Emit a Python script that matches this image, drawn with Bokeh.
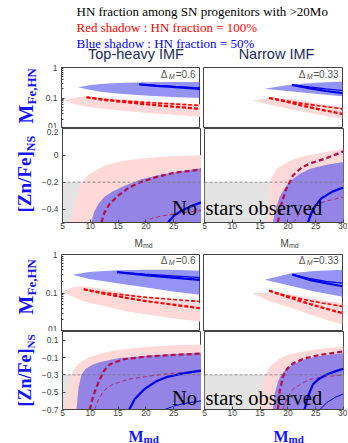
import math
from bokeh.plotting import figure
from bokeh.models import Range1d, Label, Span, BoxAnnotation, FixedTicker
from bokeh.layouts import column, row
from bokeh.embed import file_html
from bokeh.resources import INLINE

# ================= data =================
m_min, m_max = 5, 30
mfe_range = (0.01, 1)
zn_top_range = (-0.5, 0.2)
zn_bot_range = (-0.7, 0.2)
zn_limit_top = -0.2
zn_limit_bot = -0.3

x_ticks_left = [5, 10, 15, 20, 25]
x_ticks_right = [5, 10, 15, 20, 25, 30]
mfe_ticks = [0.01, 0.1, 1]
mfe_tick_labels = {0.01: ".01", 0.1: "0.1", 1: "1"}
zn_ticks_top = [-0.4, -0.2, 0, 0.2]
zn_ticks_bot = [-0.7, -0.5, -0.3, -0.1, 0.1]

# ---- block 1, M_Fe,HN, top-heavy IMF
b1_th_blue_m = [8, 10, 12, 15, 20, 25, 30]
b1_th_blue_hi = [0.226, 0.26, 0.29, 0.31, 0.33, 0.335, 0.335]
b1_th_blue_lo = [0.226, 0.185, 0.16, 0.14, 0.12, 0.108, 0.10]
b1_th_bl_m = [19, 22, 25, 28, 30]
b1_th_bl1 = [0.28, 0.25, 0.23, 0.21, 0.20]
b1_th_bl2 = [0.28, 0.26, 0.24, 0.225, 0.215]
b1_th_red_m = [5.7, 7, 9.5, 12, 15, 20, 25, 30]
b1_th_red_hi = [0.083, 0.1, 0.115, 0.105, 0.095, 0.08, 0.07, 0.062]
b1_th_red_lo = [0.083, 0.066, 0.052, 0.045, 0.04, 0.033, 0.028, 0.024]
b1_th_rl_m = [9.5, 12, 15, 20, 25, 30]
b1_th_rl1 = [0.106, 0.09, 0.078, 0.063, 0.052, 0.044]
b1_th_rl2 = [0.106, 0.093, 0.083, 0.072, 0.064, 0.057]

# ---- block 1, M_Fe,HN, narrow IMF
b1_nw_blue_m = [16, 20, 23.3, 27, 30]
b1_nw_blue_hi = [0.2, 0.26, 0.3, 0.33, 0.35]
b1_nw_blue_lo = [0.2, 0.17, 0.148, 0.128, 0.115]
b1_nw_bl_m = [20.9, 24, 27, 30]
b1_nw_bl1 = [0.27, 0.21, 0.17, 0.144]
b1_nw_bl2 = [0.27, 0.23, 0.2, 0.176]
b1_nw_red_m = [13.7, 17, 20.9, 25, 30]
b1_nw_red_hi = [0.083, 0.1, 0.095, 0.07, 0.05]
b1_nw_red_lo = [0.083, 0.06, 0.042, 0.03, 0.021]
b1_nw_rl_m = [16.8, 20, 23, 26, 30]
b1_nw_rl1 = [0.1, 0.075, 0.055, 0.042, 0.03]
b1_nw_rl2 = [0.1, 0.08, 0.065, 0.055, 0.044]

# ---- block 1, [Zn/Fe], top-heavy IMF
b1_th_pink_m = [6.5, 7, 7.5, 8, 8.5, 9.5, 11, 13, 16, 20, 25, 30]
b1_th_pink_v = [-0.5, -0.4, -0.31, -0.25, -0.2, -0.15, -0.11, -0.07, -0.04, -0.02, -0.005, 0.0]
b1_th_zblue_m = [10.2, 10.7, 11.5, 12.5, 14, 16, 19, 22, 26, 30]
b1_th_zblue_v = [-0.5, -0.42, -0.36, -0.31, -0.27, -0.23, -0.18, -0.15, -0.12, -0.095]
b1_th_cd_m = [12, 12.5, 13.5, 15, 17, 19, 22, 25, 30]
b1_th_cd_v = [-0.5, -0.43, -0.36, -0.3, -0.24, -0.2, -0.16, -0.13, -0.105]
b1_th_td_m = [19.5, 21, 23, 26, 30]
b1_th_td_v = [-0.5, -0.47, -0.45, -0.43, -0.41]
b1_th_bs_m = [24, 25, 26.5, 28, 30]
b1_th_bs_v = [-0.5, -0.45, -0.41, -0.38, -0.35]

# ---- block 1, [Zn/Fe], narrow IMF
b1_nw_pink_m = [16.3, 16.4, 16.6, 17, 18, 19.5, 21, 23, 26, 30]
b1_nw_pink_v = [-0.5, -0.35, -0.25, -0.17, -0.1, -0.06, -0.03, -0.005, 0.02, 0.05]
b1_nw_zblue_m = [17.3, 17.8, 18.5, 19.5, 20.5, 22, 24, 27, 30]
b1_nw_zblue_v = [-0.5, -0.4, -0.31, -0.24, -0.19, -0.14, -0.1, -0.07, -0.05]
b1_nw_cd_m = [18.2, 18.7, 19.6, 20.9, 22.5, 24, 27, 30]
b1_nw_cd_v = [-0.5, -0.38, -0.26, -0.15, -0.09, -0.06, -0.02, 0.03]
b1_nw_td_m = [21, 22, 24, 27, 30]
b1_nw_td_v = [-0.5, -0.44, -0.38, -0.34, -0.31]
b1_nw_bs_m = [23.6, 24.5, 26, 28, 30]
b1_nw_bs_v = [-0.5, -0.4, -0.32, -0.27, -0.24]

# ---- block 2, M_Fe,HN, top-heavy IMF
b2_th_blue_m = [7, 10, 15, 20, 25, 30]
b2_th_blue_hi = [0.30, 0.35, 0.39, 0.40, 0.40, 0.38]
b2_th_blue_lo = [0.30, 0.23, 0.18, 0.14, 0.11, 0.09]
b2_th_bl_m = [15, 20, 25, 30]
b2_th_bl1 = [0.35, 0.29, 0.25, 0.22]
b2_th_bl2 = [0.35, 0.31, 0.28, 0.25]
b2_th_red_m = [5.2, 7, 9, 12, 16, 20, 25, 30]
b2_th_red_hi = [0.11, 0.14, 0.15, 0.13, 0.1, 0.08, 0.065, 0.054]
b2_th_red_lo = [0.11, 0.08, 0.06, 0.048, 0.035, 0.028, 0.022, 0.018]
b2_th_rl_m = [9, 12, 16, 20, 25, 30]
b2_th_rl1 = [0.125, 0.1, 0.078, 0.062, 0.05, 0.04]
b2_th_rl2 = [0.125, 0.105, 0.09, 0.078, 0.068, 0.06]

# ---- block 2, M_Fe,HN, narrow IMF
b2_nw_blue_m = [16, 21, 25, 30]
b2_nw_blue_hi = [0.22, 0.33, 0.37, 0.40]
b2_nw_blue_lo = [0.22, 0.15, 0.11, 0.08]
b2_nw_bl_m = [21, 24, 27, 30]
b2_nw_bl1 = [0.30, 0.22, 0.18, 0.15]
b2_nw_bl2 = [0.30, 0.24, 0.2, 0.18]
b2_nw_red_m = [13.7, 17, 21, 25, 30]
b2_nw_red_hi = [0.10, 0.1, 0.09, 0.07, 0.054]
b2_nw_red_lo = [0.10, 0.06, 0.04, 0.025, 0.015]
b2_nw_rl_m = [16.8, 20, 23, 26, 30]
b2_nw_rl1 = [0.115, 0.08, 0.058, 0.043, 0.03]
b2_nw_rl2 = [0.115, 0.085, 0.068, 0.056, 0.045]

# ---- block 2, [Zn/Fe], top-heavy IMF
b2_th_pink_m = [5.3, 5.7, 6.2, 6.6, 7.2, 8, 9.7, 12, 15, 20, 25, 30]
b2_th_pink_v = [-0.7, -0.55, -0.42, -0.3, -0.22, -0.16, -0.1, -0.05, -0.01, 0.02, 0.04, 0.05]
b2_th_zblue_m = [7.5, 7.9, 8.4, 9.2, 10.5, 12, 15, 20, 25, 30]
b2_th_zblue_v = [-0.7, -0.45, -0.3, -0.23, -0.18, -0.15, -0.11, -0.08, -0.06, -0.045]
b2_th_cd_m = [9.9, 10.5, 11.5, 12.5, 13.5, 16, 20, 25, 30]
b2_th_cd_v = [-0.7, -0.55, -0.38, -0.25, -0.18, -0.12, -0.09, -0.07, -0.055]
b2_th_td_m = [10.8, 11.5, 12.5, 14, 17, 20, 25, 30]
b2_th_td_v = [-0.7, -0.58, -0.48, -0.41, -0.35, -0.32, -0.28, -0.26]
b2_th_bs_m = [17, 18, 19.8, 22, 24, 27, 30]
b2_th_bs_v = [-0.7, -0.58, -0.46, -0.37, -0.32, -0.28, -0.25]
b2_th_bt_m = [23.4, 25, 27, 30]
b2_th_bt_v = [-0.7, -0.66, -0.63, -0.6]

# ---- block 2, [Zn/Fe], narrow IMF
b2_nw_pink_m = [14.6, 15, 15.5, 15.9, 16.8, 18.6, 20.5, 22.7, 26, 30]
b2_nw_pink_v = [-0.7, -0.55, -0.4, -0.3, -0.2, -0.11, -0.06, -0.03, 0.0, 0.03]
b2_nw_zblue_m = [17.3, 17.7, 18.2, 18.8, 19.8, 20.9, 23, 26, 30]
b2_nw_zblue_v = [-0.7, -0.5, -0.38, -0.3, -0.22, -0.18, -0.12, -0.08, -0.05]
b2_nw_cd_m = [18.2, 18.5, 19.1, 20, 20.9, 23, 25.8, 30]
b2_nw_cd_v = [-0.7, -0.5, -0.32, -0.22, -0.17, -0.11, -0.07, -0.03]
b2_nw_td_m = [19.1, 20, 21, 22.5, 24, 27, 30]
b2_nw_td_v = [-0.7, -0.55, -0.46, -0.4, -0.35, -0.32, -0.3]
b2_nw_bs_m = [23, 23.6, 24.5, 25.5, 26.9, 28.5, 30]
b2_nw_bs_v = [-0.7, -0.55, -0.41, -0.35, -0.3, -0.26, -0.23]
b2_nw_bt_m = [25.8, 27, 28.5, 30]
b2_nw_bt_v = [-0.7, -0.62, -0.56, -0.52]

# ================= styling / layout =================
PINK = "#ffd8d8"
BLUE_FILL = "#4646ee"
BLUE_ALPHA = 0.58
RED = "#f00000"
CRIMSON = "#b0104c"
CRIMSON_T = "#b02a66"
BLUE_LINE = "#0000e8"
GRAY = "#e3e3e3"
LABEL_BLUE = "#1414ff"
AX = "#444444"
TITLE = "#1c2b5a"
SERIF = "Liberation Serif"
SANS = "Liberation Sans"

YLAB_W = 38          # column of y-axis titles
FRAME_W = 139
LEFT_B = 23          # left border of left panels (tick labels)
RIGHT_LB = 3         # left border of right panels
RIGHT_B = 4
W_ALL = YLAB_W + LEFT_B + FRAME_W + RIGHT_LB + FRAME_W + RIGHT_B
FX = {True: YLAB_W + LEFT_B, False: YLAB_W + LEFT_B + FRAME_W + RIGHT_LB}
minor_log = [k * 10.0 ** e for e in (-2, -1) for k in range(2, 10)]


def px2x(left, px):
    return m_min + (px - FX[left]) * (m_max - m_min) / FRAME_W


def py2y(py, top, h, yr, log=False):
    if log:
        a, b = math.log10(yr[0]), math.log10(yr[1])
        return 10 ** (b - (py - top) * (b - a) / h)
    return yr[1] - (py - top) * (yr[1] - yr[0]) / h


def style_axis(ax, standoff):
    ax.axis_line_color = AX
    ax.major_tick_in = 3
    ax.major_tick_out = 0
    ax.minor_tick_in = 2
    ax.minor_tick_out = 0
    ax.major_tick_line_color = AX
    ax.minor_tick_line_color = AX
    ax.major_label_text_font = SANS
    ax.major_label_text_font_size = "8.5px"
    ax.major_label_text_color = AX
    ax.major_label_standoff = standoff
    ax.axis_label_standoff = 0


def make_fig(left, frame_h, top_b, bottom_b, yr, ylog, show_x):
    p = figure(frame_width=FRAME_W, frame_height=frame_h, title=None,
               x_range=Range1d(m_min, m_max), y_range=Range1d(*yr),
               y_axis_type="log" if ylog else "linear",
               x_axis_location="below" if show_x else None,
               y_axis_location="left" if left else None,
               output_backend="svg", toolbar_location=None)
    p.min_border_left = LEFT_B if left else RIGHT_LB
    p.min_border_right = 0 if left else RIGHT_B
    p.min_border_top = top_b
    p.min_border_bottom = bottom_b
    p.xgrid.grid_line_color = None
    p.ygrid.grid_line_color = None
    p.outline_line_color = AX
    p.outline_line_width = 1
    p.background_fill_color = "white"
    p.border_fill_color = "white"
    return p


def text_fig(width, height, x0, y_top):
    # a plain canvas whose data coordinates are page pixels (y downwards)
    p = figure(frame_width=width, frame_height=height, title=None,
               x_range=Range1d(x0, x0 + width), y_range=Range1d(y_top + height, y_top),
               x_axis_location=None, y_axis_location=None,
               output_backend="svg", toolbar_location=None)
    p.min_border_left = p.min_border_right = 0
    p.min_border_top = p.min_border_bottom = 0
    p.xgrid.grid_line_color = None
    p.ygrid.grid_line_color = None
    p.outline_line_color = None
    p.background_fill_color = "white"
    p.border_fill_color = "white"
    return p


def lab(p, x, y, text, size, color, font=SANS, style="normal", align="left",
        baseline="middle", angle=0.0, xo=0):
    p.add_layout(Label(x=x, y=y, text=text, text_font_size=f"{size}px",
                       text_color=color, text_font=font, text_font_style=style,
                       text_align=align, text_baseline=baseline, angle=angle,
                       x_offset=xo))


def upper_panel(left, frame_h, top_b, blue_m, blue_hi, blue_lo, bl_m, bl1, bl2,
                red_m, red_hi, red_lo, rl_m, rl1, rl2):
    p = make_fig(left, frame_h, top_b, 0, mfe_range, True, False)
    if left:
        ya = p.yaxis[0]
        style_axis(ya, 4)
        ya.ticker = FixedTicker(ticks=mfe_ticks, minor_ticks=minor_log)
        ya.major_label_overrides = mfe_tick_labels
    p.patch(red_m + red_m[::-1], red_hi + red_lo[::-1], fill_color=PINK, line_color=None)
    p.patch(blue_m + blue_m[::-1], blue_hi + blue_lo[::-1], fill_color=BLUE_FILL,
            fill_alpha=BLUE_ALPHA, line_color=None)
    p.line(rl_m, rl2, line_color=RED, line_width=1.6, line_dash="4 2")
    p.line(rl_m, rl1, line_color=RED, line_width=2.2, line_dash="4 2")
    p.line(bl_m, bl2, line_color=BLUE_LINE, line_width=1.2)
    p.line(bl_m, bl1, line_color=BLUE_LINE, line_width=2.2)
    return p


def lower_panel(left, frame_h, bottom_b, yr, limit, ticks, standoff,
                pink_m, pink_v, blue_m, blue_v, cd_m, cd_v, td_m, td_v, bs_m, bs_v,
                bt_m=None, bt_v=None):
    p = make_fig(left, frame_h, 0, bottom_b, yr, False, True)
    xa = p.xaxis[0]
    style_axis(xa, standoff)
    xa.ticker = FixedTicker(ticks=x_ticks_left if left else x_ticks_right)
    if left:
        ya = p.yaxis[0]
        style_axis(ya, 4)
        ya.ticker = FixedTicker(ticks=ticks)
        ya.major_label_overrides = {0: "0"}
    p.add_layout(BoxAnnotation(top=limit, fill_color=GRAY, fill_alpha=1.0,
                               line_color=None, level="underlay"))
    p.patch(pink_m + [pink_m[-1]], pink_v + [yr[0]], fill_color=PINK, line_color=None)
    p.patch(blue_m + [blue_m[-1]], blue_v + [yr[0]], fill_color=BLUE_FILL,
            fill_alpha=BLUE_ALPHA, line_color=None)
    p.add_layout(Span(location=limit, dimension="width", line_color="#777777",
                      line_width=0.8, line_dash="3 2"))
    p.line(td_m, td_v, line_color=CRIMSON_T, line_width=1, line_dash="4 3")
    p.line(cd_m, cd_v, line_color=CRIMSON, line_width=2.2, line_dash="5 3")
    if bt_m is not None:
        p.line(bt_m, bt_v, line_color=BLUE_LINE, line_width=1)
    p.line(bs_m, bs_v, line_color=BLUE_LINE, line_width=2.2)
    return p


# ---- page geometry (page pixels)
HEAD_H = 62
U1_TB, U1_TOP, U1_H = 5, 67, 61
L1_TOP, L1_H, L1_BB = 128, 94, 11
STRIP_TOP, STRIP_H = 233, 16
U2_TB, U2_TOP, U2_H = 5, 254, 77
L2_TOP, L2_H, L2_BB = 331, 78, 12
FOOT_TOP, FOOT_H = 421, 22

# ---- header (texts and panel titles)
header = text_fig(W_ALL, HEAD_H, 0, 0)
lab(header, 76, 11, "HN fraction among SN progenitors with >20Mo", 13, "black", font=SERIF)
lab(header, 76, 27, "Red shadow  :  HN fraction = 100%", 13, "#ff0000", font=SERIF)
lab(header, 76, 43, "Blue shadow  :  HN fraction = 50%", 13, "#0000ff", font=SERIF)
lab(header, 135.5, 53.5, "Top-heavy IMF", 14.5, TITLE, align="center")
lab(header, 276, 53.5, "Narrow IMF", 14.5, TITLE, align="center")

# ---- block 1
u1l = upper_panel(True, U1_H, U1_TB, b1_th_blue_m, b1_th_blue_hi, b1_th_blue_lo,
                  b1_th_bl_m, b1_th_bl1, b1_th_bl2, b1_th_red_m, b1_th_red_hi, b1_th_red_lo,
                  b1_th_rl_m, b1_th_rl1, b1_th_rl2)
u1r = upper_panel(False, U1_H, U1_TB, b1_nw_blue_m, b1_nw_blue_hi, b1_nw_blue_lo,
                  b1_nw_bl_m, b1_nw_bl1, b1_nw_bl2, b1_nw_red_m, b1_nw_red_hi, b1_nw_red_lo,
                  b1_nw_rl_m, b1_nw_rl1, b1_nw_rl2)
l1l = lower_panel(True, L1_H, L1_BB, zn_top_range, zn_limit_top, zn_ticks_top, 0,
                  b1_th_pink_m, b1_th_pink_v, b1_th_zblue_m, b1_th_zblue_v,
                  b1_th_cd_m, b1_th_cd_v, b1_th_td_m, b1_th_td_v, b1_th_bs_m, b1_th_bs_v)
l1r = lower_panel(False, L1_H, L1_BB, zn_top_range, zn_limit_top, zn_ticks_top, 0,
                  b1_nw_pink_m, b1_nw_pink_v, b1_nw_zblue_m, b1_nw_zblue_v,
                  b1_nw_cd_m, b1_nw_cd_v, b1_nw_td_m, b1_nw_td_v, b1_nw_bs_m, b1_nw_bs_v)

# ---- block 2
u2l = upper_panel(True, U2_H, U2_TB, b2_th_blue_m, b2_th_blue_hi, b2_th_blue_lo,
                  b2_th_bl_m, b2_th_bl1, b2_th_bl2, b2_th_red_m, b2_th_red_hi, b2_th_red_lo,
                  b2_th_rl_m, b2_th_rl1, b2_th_rl2)
u2r = upper_panel(False, U2_H, U2_TB, b2_nw_blue_m, b2_nw_blue_hi, b2_nw_blue_lo,
                  b2_nw_bl_m, b2_nw_bl1, b2_nw_bl2, b2_nw_red_m, b2_nw_red_hi, b2_nw_red_lo,
                  b2_nw_rl_m, b2_nw_rl1, b2_nw_rl2)
l2l = lower_panel(True, L2_H, L2_BB, zn_bot_range, zn_limit_bot, zn_ticks_bot, 0,
                  b2_th_pink_m, b2_th_pink_v, b2_th_zblue_m, b2_th_zblue_v,
                  b2_th_cd_m, b2_th_cd_v, b2_th_td_m, b2_th_td_v, b2_th_bs_m, b2_th_bs_v,
                  b2_th_bt_m, b2_th_bt_v)
l2r = lower_panel(False, L2_H, L2_BB, zn_bot_range, zn_limit_bot, zn_ticks_bot, 0,
                  b2_nw_pink_m, b2_nw_pink_v, b2_nw_zblue_m, b2_nw_zblue_v,
                  b2_nw_cd_m, b2_nw_cd_v, b2_nw_td_m, b2_nw_td_v, b2_nw_bs_m, b2_nw_bs_v,
                  b2_nw_bt_m, b2_nw_bt_v)

# ---- Delta_M labels inside the upper panels


def delta_label(p, left, py, top, h, right_px, val):
    y = py2y(py, top, h, mfe_range, True)
    ys = py2y(py + 2, top, h, mfe_range, True)
    x = px2x(left, right_px)
    w_val = {"=0.6": 20, "=0.33": 25}[val]
    lab(p, x, y, val, 10, "#555555", align="right")
    lab(p, x, ys, "M", 7, "#555555", style="italic", align="right", xo=-w_val - 1)
    lab(p, x, y, "Δ", 10, "#555555", align="right", xo=-w_val - 8)


delta_label(u1l, True, 73.5, U1_TOP, U1_H, 195, "=0.6")
delta_label(u1r, False, 73.5, U1_TOP, U1_H, 338, "=0.33")
delta_label(u2l, True, 260, U2_TOP, U2_H, 195, "=0.6")
delta_label(u2r, False, 260, U2_TOP, U2_H, 338, "=0.33")

# ---- "No stars observed"
lab(l1l, px2x(True, 195.5), py2y(207, L1_TOP, L1_H, zn_top_range), "No", 20.5, "black",
    font=SERIF, align="right")
lab(l1r, px2x(False, 204), py2y(207, L1_TOP, L1_H, zn_top_range), "stars observed", 20.5,
    "black", font=SERIF)
lab(l2l, px2x(True, 195.5), py2y(397, L2_TOP, L2_H, zn_bot_range), "No", 20.5, "black",
    font=SERIF, align="right")
lab(l2r, px2x(False, 204), py2y(397, L2_TOP, L2_H, zn_bot_range), "stars observed", 20.5,
    "black", font=SERIF)

# ---- y-axis titles (rotated) in their own columns
ROT = math.pi / 2
ylab1_top = U1_TOP - U1_TB
ylab2_top = U2_TOP - U2_TB
ylab1 = text_fig(YLAB_W, L1_TOP + L1_H + L1_BB - ylab1_top, 0, ylab1_top)
ylab2 = text_fig(YLAB_W, L2_TOP + L2_H + L2_BB - ylab2_top, 0, ylab2_top)


def ylab_mfe(p, bottom_py):
    lab(p, 25, bottom_py, "M", 20, LABEL_BLUE, font=SERIF, style="bold",
        baseline="alphabetic", angle=ROT)
    lab(p, 31, bottom_py - 19, "Fe,HN", 13, LABEL_BLUE, font=SERIF, style="bold",
        baseline="alphabetic", angle=ROT)


def ylab_zn(p, bottom_py, size, sub_size):
    lab(p, 24, bottom_py, "[Zn/Fe]", size, LABEL_BLUE, font=SERIF, style="bold",
        baseline="alphabetic", angle=ROT)
    lab(p, 30, bottom_py - 3.222 * size, "NS", sub_size, LABEL_BLUE, font=SERIF,
        style="bold", baseline="alphabetic", angle=ROT)


ylab_mfe(ylab1, 123)
ylab_zn(ylab1, 212, 19, 12)
ylab_mfe(ylab2, 314)
ylab_zn(ylab2, 406, 18, 11)

# ---- small x-axis titles between the blocks
strip = text_fig(W_ALL, STRIP_H, 0, STRIP_TOP)
for x0 in (134, 280):
    lab(strip, x0, 243, "M", 10, AX, baseline="alphabetic")
    lab(strip, x0 + 8.5, 245, "md", 7, AX, baseline="alphabetic")

# ---- big x-axis titles at the bottom
footer = text_fig(W_ALL, FOOT_H, 0, FOOT_TOP)
for x0 in (128, 273):
    lab(footer, x0, 436, "M", 16, LABEL_BLUE, font=SERIF, style="bold", baseline="alphabetic")
    lab(footer, x0 + 15, 438.5, "md", 11, LABEL_BLUE, font=SERIF, style="bold",
        baseline="alphabetic")

block1 = row(ylab1, column(row(u1l, u1r), row(l1l, l1r)))
block2 = row(ylab2, column(row(u2l, u2r), row(l2l, l2r)))
layout = column(header, block1, strip, block2, footer)
open("out.html", "w").write(file_html(layout, INLINE))
